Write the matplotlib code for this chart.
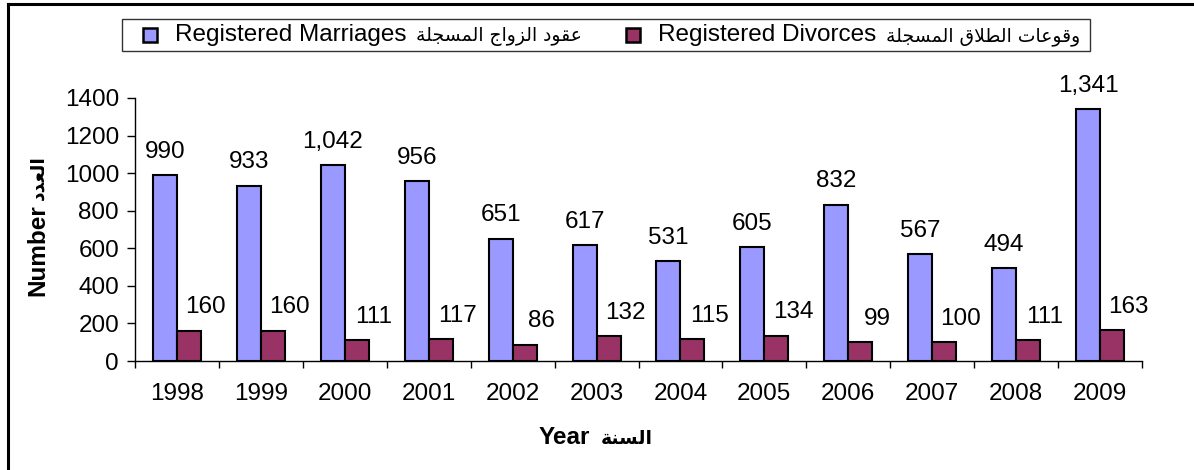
import numpy as np
import matplotlib
matplotlib.use("Agg")
import matplotlib.pyplot as plt
from matplotlib.patches import Rectangle
from matplotlib.lines import Line2D
from matplotlib.offsetbox import HPacker, TextArea, DrawingArea, AnchoredOffsetbox

plt.rcParams['font.family'] = ['Liberation Sans', 'DejaVu Sans']

# ---------------- data ----------------
years = ['1998', '1999', '2000', '2001', '2002', '2003', '2004', '2005', '2006', '2007', '2008', '2009']
marriages = [990, 933, 1042, 956, 651, 617, 531, 605, 832, 567, 494, 1341]
divorces = [160, 160, 111, 117, 86, 132, 115, 134, 99, 100, 111, 163]
yticks = [0, 200, 400, 600, 800, 1000, 1200, 1400]
series_en = ['Registered Marriages', 'Registered Divorces']
series_ar = ['عقود الزواج المسجلة', 'وقوعات الطلاق المسجلة']
xlabel_en, xlabel_ar = 'Year', 'السنة'
ylabel_en, ylabel_ar = 'Number', 'العدد'

# ------------- minimal Arabic shaping (visual order) -------------
AR_FORMS = {
    'ا': ('\uFE8D', '\uFE8E', None, None),
    'ل': ('\uFEDD', '\uFEDE', '\uFEDF', '\uFEE0'),
    'ع': ('\uFEC9', '\uFECA', '\uFECB', '\uFECC'),
    'ق': ('\uFED5', '\uFED6', '\uFED7', '\uFED8'),
    'و': ('\uFEED', '\uFEEE', None, None),
    'د': ('\uFEA9', '\uFEAA', None, None),
    'ز': ('\uFEAF', '\uFEB0', None, None),
    'ج': ('\uFE9D', '\uFE9E', '\uFE9F', '\uFEA0'),
    'م': ('\uFEE1', '\uFEE2', '\uFEE3', '\uFEE4'),
    'س': ('\uFEB1', '\uFEB2', '\uFEB3', '\uFEB4'),
    'ة': ('\uFE93', '\uFE94', None, None),
    'ط': ('\uFEC1', '\uFEC2', '\uFEC3', '\uFEC4'),
    'ت': ('\uFE95', '\uFE96', '\uFE97', '\uFE98'),
    'ن': ('\uFEE5', '\uFEE6', '\uFEE7', '\uFEE8'),
}


def _dual(c):
    return c in AR_FORMS and AR_FORMS[c][2] is not None


def shape(text):
    chars = list(text)
    n = len(chars)
    out = []
    i = 0
    while i < n:
        c = chars[i]
        if c not in AR_FORMS:
            out.append(c)
            i += 1
            continue
        prev = chars[i - 1] if i > 0 else None
        jp = prev is not None and _dual(prev)
        if c == 'ل' and i + 1 < n and chars[i + 1] == 'ا':
            out.append('\uFEFC' if jp else '\uFEFB')
            i += 2
            continue
        nxt = chars[i + 1] if i + 1 < n else None
        jn = _dual(c) and nxt is not None and nxt in AR_FORMS
        f = AR_FORMS[c]
        if jp and jn:
            g = f[3]
        elif jp:
            g = f[1]
        elif jn:
            g = f[2]
        else:
            g = f[0]
        out.append(g)
        i += 1
    return ''.join(reversed(out))


FS = 17.5      # latin text size
FS_AR = 13.5   # arabic text size (arabic glyphs in the source are smaller)

# ---------------- figure ----------------
W, H = 1194, 470
fig = plt.figure(figsize=(W / 100, H / 100), dpi=100)
ax = fig.add_axes([135 / W, 1 - 361 / H, (1142 - 135) / W, (361 - 98) / H])

blue = '#9999FF'
maroon = '#993366'
colors = [blue, maroon]
x = np.arange(len(years))
w = 0.2857
ax.bar(x - w / 2, marriages, w, color=blue, edgecolor='black', linewidth=1.5, zorder=3)
ax.bar(x + w / 2, divorces, w, color=maroon, edgecolor='black', linewidth=1.5, zorder=3)

for xi, v in zip(x, marriages):
    ax.annotate(f'{v:,}', (xi - w / 2, v), xytext=(0, 9), textcoords='offset points',
                ha='center', va='bottom', fontsize=FS)
for xi, v in zip(x, divorces):
    ax.annotate(f'{v:,}', (xi + w / 2, v), xytext=(12, 9), textcoords='offset points',
                ha='center', va='bottom', fontsize=FS)

ax.set_xlim(-0.5, len(years) - 0.5)
ax.set_ylim(0, 1400)
ax.set_yticks(yticks)
ax.set_yticklabels([str(t) for t in yticks], fontsize=FS)
ax.set_xticks(x)
ax.set_xticklabels(years, fontsize=FS)
ax.set_xticks(np.arange(-0.5, len(years), 1), minor=True)
ax.tick_params(axis='x', which='major', length=0, pad=16)
ax.tick_params(axis='x', which='minor', length=5, width=1, direction='out', color='black')
ax.tick_params(axis='y', which='major', length=5.5, width=1, direction='out', pad=6, color='black')

for s in ['top', 'right']:
    ax.spines[s].set_visible(False)
for s in ['left', 'bottom']:
    ax.spines[s].set_linewidth(1.0)
    ax.spines[s].set_color('black')

# ---------------- x label (Latin + Arabic) ----------------
xl = HPacker(children=[
    TextArea(xlabel_en, textprops=dict(fontsize=FS, fontweight='bold', family='Liberation Sans')),
    TextArea(shape(xlabel_ar), textprops=dict(fontsize=FS_AR, fontweight='bold', family='DejaVu Sans')),
], align='baseline', pad=0, sep=8)
ax.add_artist(AnchoredOffsetbox(loc='center', child=xl, pad=0, borderpad=0, frameon=False,
                                bbox_to_anchor=(596 / W, 1 - 437 / H),
                                bbox_transform=fig.transFigure))

# ---------------- y label (rotated) ----------------
fig.text(38 / W, 1 - 250 / H, ylabel_en, ha='center', va='center', fontsize=FS,
         fontweight='bold', rotation=90, family='Liberation Sans')
fig.text(38 / W, 1 - 178 / H, shape(ylabel_ar), ha='center', va='center', fontsize=FS_AR,
         fontweight='bold', rotation=90, family='DejaVu Sans')

# ---------------- legend ----------------
def legend_entry(color, en, ar):
    sq = DrawingArea(10, 10, 0, 0)
    sq.add_artist(Rectangle((0, 0), 10, 10, facecolor=color, edgecolor='black', linewidth=1.8))
    txt = HPacker(children=[
        TextArea(en, textprops=dict(fontsize=FS, family='Liberation Sans')),
        TextArea(shape(ar), textprops=dict(fontsize=FS_AR, family='DejaVu Sans')),
    ], align='baseline', pad=0, sep=7)
    return HPacker(children=[sq, txt], align='center', pad=0, sep=13)


entries = [legend_entry(c, en, ar) for c, en, ar in zip(colors, series_en, series_ar)]
spacer_l = DrawingArea(11.5, 1, 0, 0)
spacer_r = DrawingArea(3, 1, 0, 0)
row = HPacker(children=[spacer_l, HPacker(children=entries, align='center', pad=0, sep=32), spacer_r],
              align='center', pad=0, sep=0)
leg = AnchoredOffsetbox(loc='upper left', child=row, pad=0.2, borderpad=0, frameon=True,
                        prop=dict(size=FS),
                        bbox_to_anchor=(122 / W, 1 - 19 / H), bbox_transform=fig.transFigure)
leg.patch.set_edgecolor('#333333')
leg.patch.set_linewidth(1.0)
leg.patch.set_facecolor('white')
ax.add_artist(leg)

# outer border (top and left)
fig.add_artist(Line2D([8 / W, 8 / W], [0, 1 - 4 / H], color='black', linewidth=2.2,
                      transform=fig.transFigure))
fig.add_artist(Line2D([8 / W, 1], [1 - 4 / H, 1 - 4 / H], color='black', linewidth=2.2,
                      transform=fig.transFigure))

fig.savefig('out.png', dpi=100)
